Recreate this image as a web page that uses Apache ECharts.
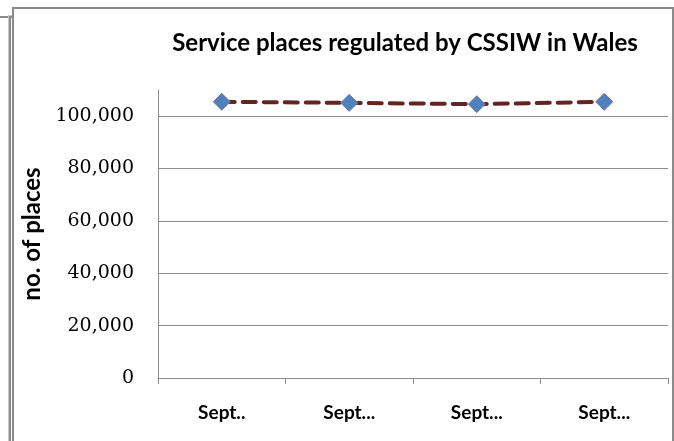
<!DOCTYPE html>
<html>
<head>
<meta charset="utf-8">
<script src="https://cdn.jsdelivr.net/npm/echarts@6/dist/echarts.min.js"></script>
<style>
html,body{margin:0;padding:0;background:#fff;}
#wrap{position:relative;width:674px;height:441px;overflow:hidden;background:#fff;}
#back{position:absolute;left:9px;top:16px;width:700px;height:500px;border-left:2px solid #8a8a8a;border-top:2px solid #8a8a8a;box-shadow:-1px -1px 0 #c8c8c8;}
#backtop{position:absolute;left:0;top:16px;width:10px;height:2px;background:#8a8a8a;}
#frame{position:absolute;left:12px;top:7px;width:658px;height:500px;border:2px solid #8a8a8a;background:#fff;}
#chart{position:absolute;left:0;top:0;width:674px;height:441px;}
</style>
</head>
<body>
<div id="wrap">
<div id="backtop"></div>
<div id="back"></div>
<div id="frame"></div>
<div id="chart"></div>
</div>
<script>
var categories = ['Sept..', 'Sept...', 'Sept...', 'Sept...'];
var places = [105500, 105100, 104600, 105500];
var titleText = 'Service places regulated by CSSIW in Wales';
var yAxisName = 'no. of places';

var chart = echarts.init(document.getElementById('chart'), null, {renderer: 'canvas'});
chart.setOption({
  backgroundColor: 'transparent',
  animation: false,
  title: {
    text: titleText,
    left: 400,
    top: 26,
    textAlign: 'center',
    textStyle: {fontFamily: 'Lato', fontWeight: 'bold', fontSize: 24, color: '#000'}
  },
  grid: {left: 158, right: 6, top: 90, bottom: 63, containLabel: false},
  xAxis: {
    type: 'category',
    data: categories,
    boundaryGap: true,
    axisLine: {lineStyle: {color: '#8c8c8c', width: 1}},
    axisTick: {show: true, length: 6, lineStyle: {color: '#8c8c8c'}},
    axisLabel: {margin: 25, fontFamily: 'Lato', fontWeight: 'bold', fontSize: 19, color: '#000'}
  },
  yAxis: {
    type: 'value',
    min: 0,
    max: 110000,
    interval: 20000,
    name: yAxisName,
    nameLocation: 'middle',
    nameRotate: 90,
    nameGap: 109,
    nameTextStyle: {fontFamily: 'Lato', fontWeight: 'bold', fontSize: 24, color: '#000'},
    axisLine: {show: true, lineStyle: {color: '#8c8c8c', width: 1}},
    axisTick: {show: false},
    splitLine: {show: true, showMaxLine: false, lineStyle: {color: '#8c8c8c', width: 1}},
    axisLabel: {
      showMaxLabel: false,
      margin: 24,
      fontFamily: 'DejaVu Serif',
      fontSize: 19,
      color: '#000',
      formatter: function (v) { return v.toLocaleString('en-US'); }
    }
  },
  series: [{
    type: 'line',
    data: places,
    symbol: 'diamond',
    symbolSize: 17,
    lineStyle: {color: '#632523', width: 4, type: [13, 8], cap: 'round'},
    itemStyle: {color: '#4F81BD', borderColor: '#7a7a9a', borderWidth: 1},
    z: 3
  }]
});
</script>
</body>
</html>
